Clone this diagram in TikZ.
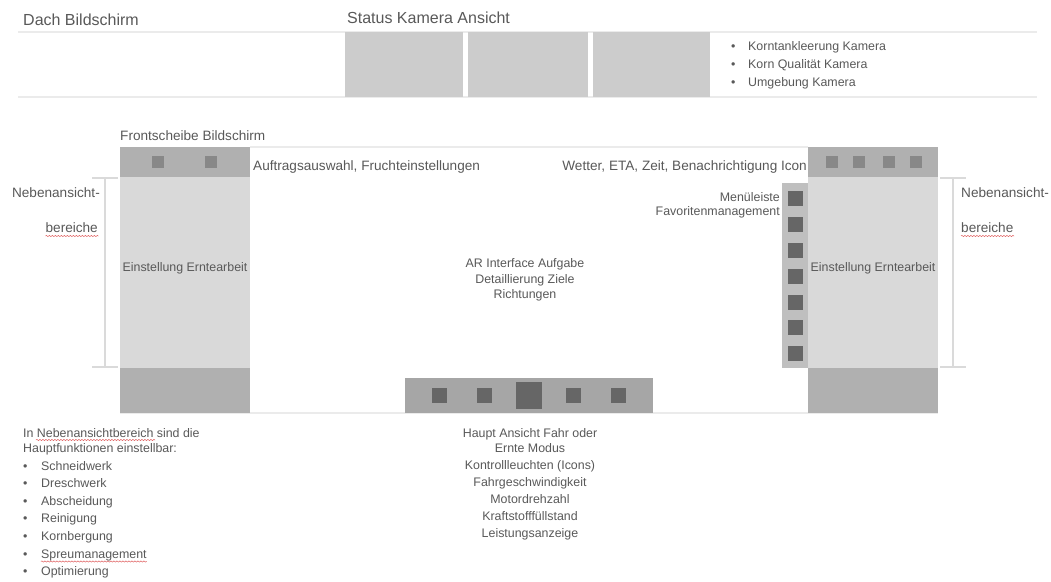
\documentclass[tikz,border=0pt]{standalone}
\usepackage{fontspec}
\setmainfont{Liberation Sans}
\usetikzlibrary{decorations.pathmorphing}
\definecolor{txt}{HTML}{595959}
\definecolor{camgrey}{HTML}{CCCCCC}
\definecolor{bargrey}{HTML}{B0B0B0}
\definecolor{panelgrey}{HTML}{D9D9D9}
\definecolor{iconlight}{HTML}{888888}
\definecolor{icondark}{HTML}{666666}
\definecolor{stripgrey}{HTML}{BFBFBF}
\definecolor{centerbar}{HTML}{A6A6A6}
\definecolor{sepline}{HTML}{EBEBEB}
\definecolor{bracketgrey}{HTML}{DADADA}
\definecolor{spellred}{HTML}{E06060}
\begin{document}
\begin{tikzpicture}[x=1pt,y=-1pt,
  title/.style={inner sep=0pt, text=txt, font=\fontsize{16}{19}\selectfont},
  lbl/.style={inner sep=0pt, text=txt, font=\fontsize{13.6}{16}\selectfont},
  small/.style={inner sep=0pt, text=txt, font=\fontsize{12.4}{15}\selectfont},
  sep/.style={draw=sepline, line width=1.5pt},
  bracket/.style={draw=bracketgrey, line width=2.5pt},
  wavy/.style={draw=spellred, line width=0.5pt, decorate, decoration={snake, segment length=3pt, amplitude=0.6pt}}
]
\useasboundingbox[fill=white] (0,0) rectangle (1051,581);

% ---------- top: Dach Bildschirm ----------
\node[title, anchor=base west] (dach) at (23,25) {Dach Bildschirm};
\node[title, anchor=base west] (status) at (347,23) {Status Kamera Ansicht};
\draw[sep] (18,32) -- (1037,32);
\draw[sep] (18,97) -- (1037,97);
\fill[camgrey] (345,32) rectangle (463,97);
\fill[camgrey] (468,32) rectangle (588,97);
\fill[camgrey] (593,32) rectangle (710,97);
\foreach \t [count=\i] in {Korntankleerung Kamera, Korn Qualität Kamera, Umgebung Kamera} {
  \node[small, anchor=base west] (camb\i) at (731,{50+18*(\i-1)}) {•};
  \node[small, anchor=base west] (cam\i) at (748,{50+18*(\i-1)}) {\t};
}

% ---------- middle: Frontscheibe ----------
\node[lbl, anchor=base west] (front) at (120,140) {Frontscheibe Bildschirm};
\draw[sep] (250,147) -- (808,147);
\draw[sep] (120,413) -- (938,413);

% left column
\fill[bargrey] (120,147) rectangle (250,177);
\fill[panelgrey] (120,177) rectangle (250,368);
\fill[bargrey] (120,368) rectangle (250,413);
\fill[iconlight] (152,156) rectangle (164,168);
\fill[iconlight] (205,156) rectangle (217,168);
\node[small, anchor=base] (einl) at (185,271) {Einstellung Erntearbeit};

% right column
\fill[bargrey] (808,147) rectangle (938,177);
\fill[panelgrey] (808,177) rectangle (938,368);
\fill[bargrey] (808,368) rectangle (938,413);
\foreach \x in {826,853,883,910} \fill[iconlight] (\x,156) rectangle ++(12,12);
\node[small, anchor=base] (einr) at (873,271) {Einstellung Erntearbeit};

% menu strip
\fill[stripgrey] (782,183) rectangle (808,368);
\foreach \y in {191,217,243,269,295,320,346} \fill[icondark] (788,\y) rectangle ++(15,15);
\node[small, anchor=base east] (menu1) at (780,201) {Menüleiste};
\node[small, anchor=base east] (menu2) at (780,215) {Favoritenmanagement};

% top bar labels
\node[lbl, anchor=base west] (auftrag) at (253,170) {Auftragsauswahl, Fruchteinstellungen};
\node[lbl, anchor=base east] (wetter) at (807,170) {Wetter, ETA, Zeit, Benachrichtigung Icon};

% brackets
\coordinate (lbt) at (105,178);
\coordinate (lbb) at (105,367);
\draw[bracket] (lbt) -- (lbb);
\draw[bracket] (92,178) -- (118,178);
\draw[bracket] (92,367) -- (118,367);
\coordinate (rbt) at (953,178);
\coordinate (rbb) at (953,367);
\draw[bracket] (rbt) -- (rbb);
\draw[bracket] (940,178) -- (966,178);
\draw[bracket] (940,367) -- (966,367);

\node[lbl, anchor=base east] (nebl1) at (100,197) {Nebenansicht-};
\node[lbl, anchor=base east] (nebl2) at (98,232) {bereiche};
\node[lbl, anchor=base west] (nebr1) at (961,197) {Nebenansicht-};
\node[lbl, anchor=base west] (nebr2) at (961,232) {bereiche};
\draw[wavy] (nebl2.base west) ++(0,4) -- ++(53,0);
\draw[wavy] (nebr2.base west) ++(0,4) -- ++(53,0);

% centre AR text
\node[small, anchor=base] (ar1) at (525,267) {AR Interface Aufgabe};
\node[small, anchor=base] (ar2) at (525,283) {Detaillierung Ziele};
\node[small, anchor=base] (ar3) at (525,298) {Richtungen};

% bottom centre bar
\fill[centerbar] (405,378) rectangle (653,413);
\foreach \x in {432,477,566,611} \fill[icondark] (\x,388) rectangle ++(15,15);
\fill[icondark] (516,382) rectangle (542,409);

% bottom centre text
\foreach \t/\y [count=\i] in {Haupt Ansicht Fahr oder/437, Ernte Modus/452, Kontrollleuchten (Icons)/469, Fahrgeschwindigkeit/486, Motordrehzahl/503, Kraftstofffüllstand/520, Leistungsanzeige/537} {
  \node[small, anchor=base] (hc\i) at (530,\y) {\t};
}

% bottom left text
\node[small, anchor=base west] (inneb1) at (23,437) {In Nebenansichtbereich sind die};
\node[small, anchor=base west] (inneb2) at (23,452) {Hauptfunktionen einstellbar:};
\draw[wavy] (36,440) -- (155,440);
\foreach \t [count=\i] in {Schneidwerk, Dreschwerk, Abscheidung, Reinigung, Kornbergung, Spreumanagement, Optimierung} {
  \node[small, anchor=base west] (fb\i) at (23,{470+17.6*(\i-1)}) {•};
  \node[small, anchor=base west] (fn\i) at (41,{470+17.6*(\i-1)}) {\t};
}
\draw[wavy] (fn6.base west) ++(0,3.5) -- (fn6.base east |- 0,561.5);
\end{tikzpicture}
\end{document}
